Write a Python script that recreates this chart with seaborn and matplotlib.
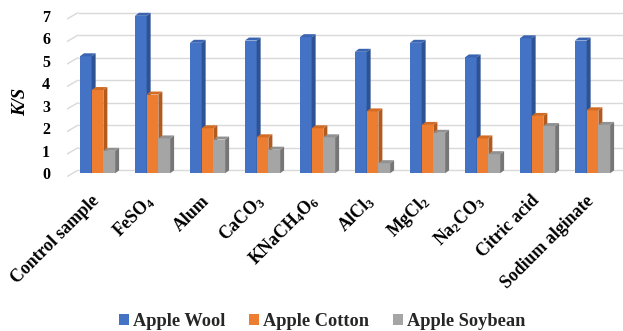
import matplotlib
matplotlib.use("Agg")
import matplotlib.pyplot as plt
from matplotlib.patches import Polygon
from matplotlib.transforms import ScaledTranslation
import seaborn as sns
import pandas as pd

# K/S values per mordant and fabric
mordants = ["Control sample", r"$\mathbf{FeSO_4}$", "Alum", r"$\mathbf{CaCO_3}$",
            r"$\mathbf{KNaCH_4O_6}$", r"$\mathbf{AlCl_3}$", r"$\mathbf{MgCl_2}$",
            r"$\mathbf{Na_2CO_3}$", "Citric acid", "Sodium alginate"]
apple_wool = [5.2, 7.0, 5.8, 5.9, 6.05, 5.4, 5.8, 5.15, 6.0, 5.9]
apple_cotton = [3.7, 3.5, 2.0, 1.6, 2.0, 2.75, 2.15, 1.55, 2.55, 2.8]
apple_soybean = [1.0, 1.55, 1.5, 1.05, 1.6, 0.45, 1.8, 0.85, 2.1, 2.15]
series_names = ["Apple Wool", "Apple Cotton", "Apple Soybean"]
y_ticks = [0, 1, 2, 3, 4, 5, 6, 7]

front_colors = ["#4472C4", "#ED7D31", "#A5A5A5"]
side_colors = ["#2E5394", "#B25B1F", "#767676"]
top_colors = ["#3B64B0", "#D26C25", "#919191"]

sns.set_theme(style="white")
plt.rcParams["font.family"] = ["Liberation Serif", "DejaVu Serif"]
plt.rcParams["mathtext.fontset"] = "custom"
plt.rcParams["mathtext.bf"] = "Liberation Serif:bold"
plt.rcParams["mathtext.rm"] = "Liberation Serif:bold"

df = pd.DataFrame({
    "Mordant": mordants * 3,
    "K/S": apple_wool + apple_cotton + apple_soybean,
    "Fabric": [series_names[0]] * 10 + [series_names[1]] * 10 + [series_names[2]] * 10,
})

W, H = 623, 331
fig = plt.figure(figsize=(W / 100, H / 100), dpi=100)

# plot area in pixels: bar plane floor at y=173.3, 22.5 px per unit, 55 px per category
px_x, px_y = 55.0, 22.5
x_left, x_right = -0.56, 9.555
y_bot, y_top = -0.25, 7.4
floor_px = 173.3
left_px = 97.5 + x_left * px_x
ax = fig.add_axes([left_px / W, (H - (floor_px - y_bot * px_y)) / H,
                   (x_right - x_left) * px_x / W, (y_top - y_bot) * px_y / H])

sns.barplot(data=df, x="Mordant", y="K/S", hue="Fabric", palette=front_colors,
            width=0.64, gap=0, saturation=1, linewidth=0, ax=ax, zorder=3)
ax.set_xlim(x_left, x_right)
ax.set_ylim(y_bot, y_top)

# back wall gridlines with the short side-wall diagonal at the left
wall_front = -3.4 / px_y
wall_back_dx, wall_back_dy = 11.6 / px_x, 3.3 / px_y
for v in y_ticks:
    ax.plot([x_left, x_left + wall_back_dx], [v + wall_front, v + wall_back_dy],
            color="#D9D9D9", lw=1.0, zorder=1, solid_capstyle="butt")
    ax.plot([x_left + wall_back_dx, x_right], [v + wall_back_dy] * 2,
            color="#D9D9D9", lw=1.0, zorder=1, solid_capstyle="butt")

# depth faces (side and top) of each column
ddx, ddy = 4.0 / px_x, 3.0 / px_y
for k, cont in enumerate(ax.containers):
    for bar in cont:
        x0 = bar.get_x()
        x1 = x0 + bar.get_width()
        h = bar.get_height()
        z = 3 + 0.1 * k
        bar.set_zorder(z)
        side = Polygon([(x1, 0), (x1 + ddx, ddy), (x1 + ddx, h + ddy), (x1, h)],
                       closed=True, facecolor=side_colors[k], edgecolor="none", zorder=z + 0.05)
        top = Polygon([(x0, h), (x0 + ddx, h + ddy), (x1 + ddx, h + ddy), (x1, h)],
                      closed=True, facecolor=top_colors[k], edgecolor="none", zorder=z + 0.05)
        ax.add_patch(side)
        ax.add_patch(top)

for s in ax.spines.values():
    s.set_visible(False)
ax.grid(False)
ax.set_yticks(y_ticks)
ax.set_yticklabels([str(t) for t in y_ticks], fontsize=11.5, fontweight="bold", color="black")
ax.tick_params(axis="y", length=0, pad=12)
ax.tick_params(axis="x", length=0, pad=14)
ax.set_xticks(range(len(mordants)))
ax.set_xticklabels(mordants, rotation=45, ha="right", va="center", rotation_mode="anchor",
                   fontsize=12.8, fontweight="bold", color="black")
shift = ScaledTranslation(-1 / 100, 0, fig.dpi_scale_trans)
for lab in ax.get_xticklabels():
    lab.set_transform(lab.get_transform() + shift)
ax.set_xlabel("")
ax.set_ylabel("")
fig.text(21 / W, 1 - 102 / H, "K/S", rotation=90, ha="center", va="center",
         fontsize=13.5, fontweight="bold", fontstyle="italic", color="black")

handles, labels = ax.get_legend_handles_labels()
ax.get_legend().remove()
fig.legend(handles, labels, loc="center", bbox_to_anchor=(322 / W, 1 - 321.5 / H),
           ncol=3, frameon=False, handlelength=0.55, handleheight=0.55, handletextpad=0.22,
           columnspacing=1.3, borderpad=0,
           prop={"family": "Liberation Serif", "weight": "bold", "size": 13.2})

fig.savefig("out.png", dpi=100)
